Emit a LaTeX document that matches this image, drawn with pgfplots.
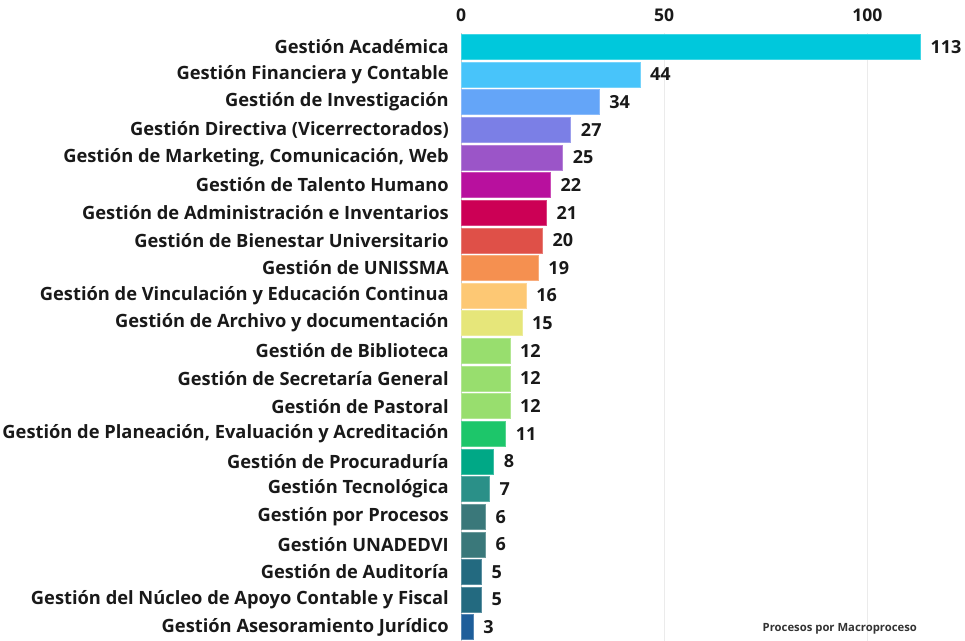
\documentclass[border=0pt]{standalone}
\usepackage{pgfplots}
\pgfplotsset{compat=1.18}
\usepackage{fontspec}
\setmainfont{Open Sans}
\definecolor{c1}{RGB}{0,200,220}
\definecolor{c2}{RGB}{72,196,250}
\definecolor{c3}{RGB}{100,165,248}
\definecolor{c4}{RGB}{123,127,230}
\definecolor{c5}{RGB}{155,85,200}
\definecolor{c6}{RGB}{184,16,158}
\definecolor{c7}{RGB}{204,0,85}
\definecolor{c8}{RGB}{223,80,72}
\definecolor{c9}{RGB}{245,144,80}
\definecolor{c10}{RGB}{253,200,116}
\definecolor{c11}{RGB}{230,230,122}
\definecolor{c12}{RGB}{152,222,110}
\definecolor{c15}{RGB}{29,198,106}
\definecolor{c16}{RGB}{0,168,134}
\definecolor{c17}{RGB}{42,144,136}
\definecolor{c18}{RGB}{58,120,122}
\definecolor{c20}{RGB}{35,106,128}
\definecolor{c22}{RGB}{30,94,154}
\newcommand{\mybar}[3]{\addplot[xbar, bar width=25bp, bar shift=0pt, fill=#1, draw=#1!75!white, line width=0.5bp] coordinates {(#2,#3)};}
\begin{document}
\begin{tikzpicture}
\useasboundingbox (0,0) rectangle (965bp,641bp);
\begin{axis}[
  at={(461bp,0bp)}, anchor=south west,
  scale only axis, width=504bp, height=608bp,
  xmin=0, xmax=124, ymin=-0.5, ymax=21.5,
  y dir=reverse,
  xbar, bar shift=0pt,
  xtick={0,50,100},
  ytick={0,...,21},
  yticklabels={Gestión Académica,Gestión Financiera y Contable,Gestión de Investigación,Gestión Directiva (Vicerrectorados),{Gestión de Marketing, Comunicación, Web},Gestión de Talento Humano,Gestión de Administración e Inventarios,Gestión de Bienestar Universitario,Gestión de UNISSMA,Gestión de Vinculación y Educación Continua,Gestión de Archivo y documentación,Gestión de Biblioteca,Gestión de Secretaría General,Gestión de Pastoral,{Gestión de Planeación, Evaluación y Acreditación},Gestión de Procuraduría,Gestión Tecnológica,Gestión por Procesos,Gestión UNADEDVI,Gestión de Auditoría,Gestión del Núcleo de Apoyo Contable y Fiscal,Gestión Asesoramiento Jurídico},
  /pgf/number format/assume math mode=true,
  major tick length=0pt,
  axis x line*=top, axis y line*=left,
  separate axis lines,
  x axis line style={draw=none},
  y axis line style={draw=black!20, line width=0.8bp},
  xmajorgrids, grid style={draw=black!8, line width=0.8bp},
  xticklabel style={font=\fontsize{17.5bp}{20bp}\selectfont\bfseries, text=black!90, inner sep=0pt, yshift=11bp},
  yticklabel style={font=\fontsize{18.3bp}{21bp}\selectfont\bfseries, text=black!90, inner sep=0pt, xshift=-12bp},
  nodes near coords,
  nodes near coords style={font=\fontsize{18bp}{21bp}\selectfont\bfseries, text=black!90, inner sep=0pt, xshift=10bp},
  clip=false,
]
\mybar{c1}{113}{0}
\mybar{c2}{44}{1}
\mybar{c3}{34}{2}
\mybar{c4}{27}{3}
\mybar{c5}{25}{4}
\mybar{c6}{22}{5}
\mybar{c7}{21}{6}
\mybar{c8}{20}{7}
\mybar{c9}{19}{8}
\mybar{c10}{16}{9}
\mybar{c11}{15}{10}
\mybar{c12}{12}{11}
\mybar{c12}{12}{12}
\mybar{c12}{12}{13}
\mybar{c15}{11}{14}
\mybar{c16}{8}{15}
\mybar{c17}{7}{16}
\mybar{c18}{6}{17}
\mybar{c18}{6}{18}
\mybar{c20}{5}{19}
\mybar{c20}{5}{20}
\mybar{c22}{3}{21}
\node[font=\fontsize{11.3bp}{13bp}\selectfont\bfseries, text=black!80] at (axis cs:93.2,21.05) {Procesos por Macroproceso};
\end{axis}
\end{tikzpicture}
\end{document}
